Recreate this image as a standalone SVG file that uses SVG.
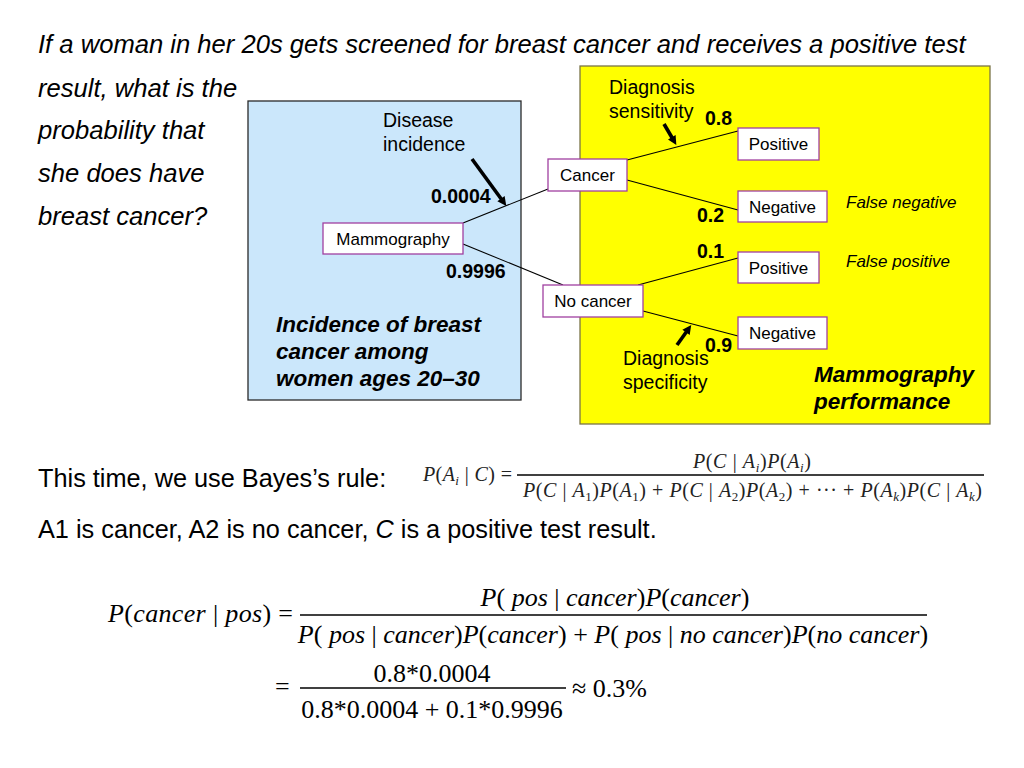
<svg xmlns="http://www.w3.org/2000/svg" width="1024" height="768" viewBox="0 0 1024 768">
<style>
  .q { font-family: "Liberation Sans", Arial, sans-serif; font-style: italic; font-size: 25.6px; }
  .body { font-family: "Liberation Sans", Arial, sans-serif; font-size: 25.3px; }
  .node rect { fill: #fff; stroke: #a040a0; stroke-width: 1.3; }
  .node text { font-family: "Liberation Sans", Arial, sans-serif; font-size: 17px; text-anchor: middle; }
  .lbl { font-family: "Liberation Sans", Arial, sans-serif; font-size: 19.5px; }
  .num { font-family: "Liberation Sans", Arial, sans-serif; font-size: 19.5px; font-weight: bold; }
  .cap { font-family: "Liberation Sans", Arial, sans-serif; font-size: 22.5px; font-weight: bold; font-style: italic; }
  .fl { font-family: "Liberation Sans", Arial, sans-serif; font-size: 17px; font-style: italic; }
  .conn line { stroke: #000; stroke-width: 1.1; }
  .arr { stroke: #000; stroke-width: 3.6; marker-end: url(#ah); }
  .m { font-family: "Liberation Serif", "Times New Roman", serif; font-size: 26px; }
  .b { font-family: "Liberation Serif", "Times New Roman", serif; font-size: 20px; fill: #222; }
  .i { font-style: italic; }
  .bar { stroke: #000; stroke-width: 1.3; }
</style>
<defs>
  <marker id="ah" viewBox="0 0 10 10" refX="3.6" refY="5" markerWidth="11" markerHeight="9" orient="auto" markerUnits="userSpaceOnUse">
    <path d="M0,0 L10,5 L0,10 z" fill="#000"/>
  </marker>
</defs>
<rect width="1024" height="768" fill="#fff"/>

<!-- question -->
<text class="q" x="38" y="53">If a woman in her 20s gets screened for breast cancer and receives a positive test</text>
<text class="q" x="38" y="97">result, what is the</text>
<text class="q" x="38" y="139">probability that</text>
<text class="q" x="38" y="182">she does have</text>
<text class="q" x="38" y="225">breast cancer?</text>

<!-- panels -->
<g id="incidence-panel">
  <rect x="248" y="101" width="273" height="299" fill="#cbe7fb" stroke="#2a2a2a" stroke-width="1.3"/>
  <text class="cap" x="276" y="332">Incidence of breast</text>
  <text class="cap" x="276" y="359">cancer among</text>
  <text class="cap" x="276" y="386">women ages 20–30</text>
</g>
<g id="performance-panel">
  <rect x="580" y="66" width="410" height="358" fill="#ffff00" stroke="#7a7448" stroke-width="1.3"/>
  <text class="cap" x="814" y="382">Mammography</text>
  <text class="cap" x="814" y="409">performance</text>
</g>

<!-- connectors -->
<g id="connectors" class="conn">
  <line x1="463" y1="223" x2="548" y2="189"/>
  <line x1="463" y1="244" x2="563" y2="285"/>
  <line x1="627" y1="160" x2="738" y2="131"/>
  <line x1="627" y1="180" x2="738" y2="210"/>
  <line x1="638" y1="285" x2="738" y2="258"/>
  <line x1="643" y1="311" x2="738" y2="336"/>
</g>

<!-- nodes -->
<g id="n-mammography" class="node"><rect x="323" y="223" width="140" height="31"/><text x="393" y="244.5">Mammography</text></g>
<g id="n-cancer" class="node"><rect x="548" y="159" width="79" height="32"/><text x="587.5" y="181">Cancer</text></g>
<g id="n-nocancer" class="node"><rect x="543" y="285" width="100" height="32"/><text x="593" y="307">No cancer</text></g>
<g id="n-pos1" class="node"><rect x="738" y="128" width="81" height="32"/><text x="778.5" y="150">Positive</text></g>
<g id="n-neg1" class="node"><rect x="738" y="191" width="89" height="31"/><text x="782.5" y="212.5">Negative</text></g>
<g id="n-pos2" class="node"><rect x="738" y="252" width="81" height="31"/><text x="778.5" y="273.5">Positive</text></g>
<g id="n-neg2" class="node"><rect x="738" y="317" width="89" height="32"/><text x="782.5" y="339">Negative</text></g>

<!-- annotations -->
<g id="annotations">
  <text class="lbl" x="383" y="127">Disease</text>
  <text class="lbl" x="383" y="151">incidence</text>
  <line class="arr" x1="472" y1="159" x2="502.9" y2="201.3"/>
  <text class="num" x="431" y="203">0.0004</text>
  <text class="num" x="446" y="278">0.9996</text>

  <text class="lbl" x="609" y="94">Diagnosis</text>
  <text class="lbl" x="609" y="118">sensitivity</text>
  <line class="arr" x1="664" y1="124" x2="673.4" y2="140"/>
  <text class="num" x="705" y="125">0.8</text>
  <text class="num" x="697" y="222">0.2</text>
  <text class="num" x="697" y="258">0.1</text>
  <text class="num" x="705" y="352">0.9</text>
  <line class="arr" x1="677" y1="345" x2="687.9" y2="329.7"/>
  <text class="lbl" x="623" y="365">Diagnosis</text>
  <text class="lbl" x="623" y="389">specificity</text>

  <text class="fl" x="846" y="208">False negative</text>
  <text class="fl" x="846" y="267">False positive</text>
</g>

<!-- Bayes rule -->
<text class="body" x="38" y="487">This time, we use Bayes’s rule:</text>
<g id="bayes-rule">
  <text class="b" x="423" y="481" textLength="89" lengthAdjust="spacing"><tspan class="i">P</tspan>(<tspan class="i">A</tspan><tspan font-size="13" dy="4" class="i">i</tspan><tspan dy="-4"> | </tspan><tspan class="i">C</tspan>) =</text>
  <text class="b" x="752" y="468" text-anchor="middle" textLength="118" lengthAdjust="spacing"><tspan class="i">P</tspan>(<tspan class="i">C</tspan> | <tspan class="i">A</tspan><tspan font-size="13" dy="4" class="i">i</tspan><tspan dy="-4">)</tspan><tspan class="i">P</tspan>(<tspan class="i">A</tspan><tspan font-size="13" dy="4" class="i">i</tspan><tspan dy="-4">)</tspan></text>
  <line class="bar" x1="517" y1="475" x2="984" y2="475" stroke-width="1"/>
  <text class="b" x="523" y="497" textLength="459" lengthAdjust="spacing"><tspan class="i">P</tspan>(<tspan class="i">C</tspan> | <tspan class="i">A</tspan><tspan font-size="13" dy="4">1</tspan><tspan dy="-4">)</tspan><tspan class="i">P</tspan>(<tspan class="i">A</tspan><tspan font-size="13" dy="4">1</tspan><tspan dy="-4">) + </tspan><tspan class="i">P</tspan>(<tspan class="i">C</tspan> | <tspan class="i">A</tspan><tspan font-size="13" dy="4">2</tspan><tspan dy="-4">)</tspan><tspan class="i">P</tspan>(<tspan class="i">A</tspan><tspan font-size="13" dy="4">2</tspan><tspan dy="-4">) + ··· + </tspan><tspan class="i">P</tspan>(<tspan class="i">A</tspan><tspan font-size="13" dy="4" class="i">k</tspan><tspan dy="-4">)</tspan><tspan class="i">P</tspan>(<tspan class="i">C</tspan> | <tspan class="i">A</tspan><tspan font-size="13" dy="4" class="i">k</tspan><tspan dy="-4">)</tspan></text>
</g>
<text class="body" x="38" y="538">A1 is cancer, A2 is no cancer, <tspan class="i">C</tspan> is a positive test result.</text>

<!-- worked formula -->
<g id="worked-formula">
  <text class="m" x="108" y="622" textLength="185" lengthAdjust="spacing"><tspan class="i">P</tspan>(<tspan class="i">cancer</tspan> | <tspan class="i">pos</tspan>) =</text>
  <text class="m" x="615" y="606" text-anchor="middle"><tspan class="i">P</tspan>( <tspan class="i">pos</tspan> | <tspan class="i">cancer</tspan>)<tspan class="i">P</tspan>(<tspan class="i">cancer</tspan>)</text>
  <line class="bar" x1="300" y1="615" x2="927" y2="615"/>
  <text class="m" x="613" y="643" text-anchor="middle"><tspan class="i">P</tspan>( <tspan class="i">pos</tspan> | <tspan class="i">cancer</tspan>)<tspan class="i">P</tspan>(<tspan class="i">cancer</tspan>) + <tspan class="i">P</tspan>( <tspan class="i">pos</tspan> | <tspan class="i">no cancer</tspan>)<tspan class="i">P</tspan>(<tspan class="i">no cancer</tspan>)</text>
  <text class="m" x="275" y="695">=</text>
  <text class="m" x="432" y="682" text-anchor="middle">0.8*0.0004</text>
  <line class="bar" x1="300" y1="688" x2="566" y2="688"/>
  <text class="m" x="432" y="718" text-anchor="middle">0.8*0.0004 + 0.1*0.9996</text>
  <text class="m" x="572" y="697">≈ 0.3%</text>
</g>
</svg>
